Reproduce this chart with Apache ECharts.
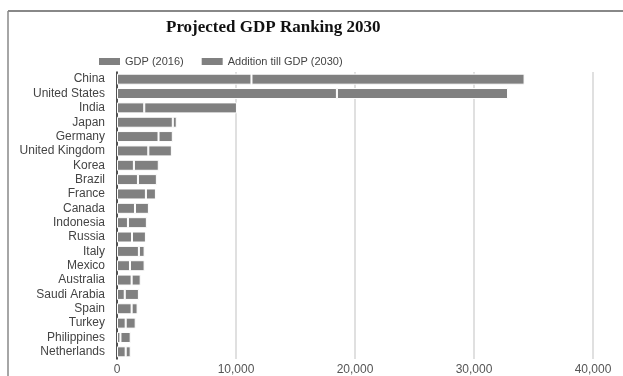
<!DOCTYPE html>
<html><head><meta charset="utf-8">
<script src="https://cdn.jsdelivr.net/npm/echarts@6/dist/echarts.min.js"></script>
<style>html,body{margin:0;padding:0;background:#fff;overflow:hidden}#c{width:623px;height:376px}</style>
</head><body><div id="c"></div>
<script>
const categories = ["China","United States","India","Japan","Germany","United Kingdom","Korea","Brazil","France","Canada","Indonesia","Russia","Italy","Mexico","Australia","Saudi Arabia","Spain","Turkey","Philippines","Netherlands"];
const gdp2016 = [11300,18480,2290,4690,3490,2630,1420,1760,2430,1510,920,1260,1840,1090,1230,650,1230,730,290,730];
const addition2030 = [22950,14380,7790,330,1200,1980,2090,1590,840,1170,1590,1170,480,1230,760,1190,500,840,860,420];
const xTicks = { min: 0, max: 40000, interval: 10000 };
const seriesNames = ["GDP (2016)", "Addition till GDP (2030)"];

const chart = echarts.init(document.getElementById('c'), null, {renderer:'canvas'});
const barStyle = { color: '#808080', borderColor: '#ffffff', borderWidth: 1 };
chart.setOption({
  animation: false,
  title: { text: 'Projected GDP Ranking 2030', left: 161, top: 14,
    textStyle: { fontFamily: 'Liberation Serif', fontWeight: 'bold', fontSize: 17, color: '#111' } },
  legend: { left: 92, top: 51, itemWidth: 23, itemHeight: 9, itemGap: 16,
    textStyle: { fontFamily: 'Liberation Sans', fontSize: 11, color: '#444', padding: [0,0,0,-1] },
    icon: 'rect', data: seriesNames },
  grid: { left: 117, right: 30, top: 72, bottom: 16, containLabel: false },
  xAxis: { type: 'value', min: xTicks.min, max: xTicks.max, interval: xTicks.interval,
    axisLine: { show: false }, axisTick: { show: false },
    splitLine: { lineStyle: { color: '#d6d6d6', width: 1.5 } },
    axisLabel: { fontFamily: 'Liberation Sans', fontSize: 12, color: '#555', margin: 5,
      formatter: v => v.toLocaleString('en-US') } },
  yAxis: { type: 'category', inverse: true, data: categories,
    axisLine: { show: true, lineStyle: { color: '#222', width: 1.5 } }, axisTick: { show: false },
    axisLabel: { interval: 0, fontFamily: 'Liberation Sans', fontSize: 12, color: '#444', margin: 12 } },
  graphic: [
    { type: 'line', shape: { x1: 8, y1: 11, x2: 623, y2: 11 }, style: { stroke: '#888', lineWidth: 2 } },
    { type: 'line', shape: { x1: 8, y1: 11, x2: 8, y2: 380 }, style: { stroke: '#888', lineWidth: 1.5 } }
  ],
  series: [
    { name: seriesNames[0], type: 'bar', stack: 'g', data: gdp2016, barWidth: 11, itemStyle: barStyle },
    { name: seriesNames[1], type: 'bar', stack: 'g', data: addition2030, barWidth: 11, itemStyle: barStyle }
  ]
});
</script></body></html>
